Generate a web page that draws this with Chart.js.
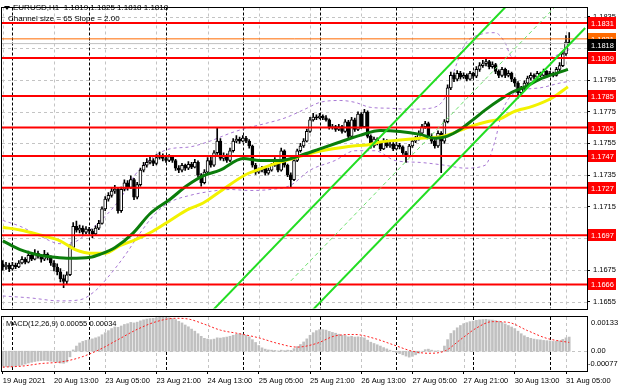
<!DOCTYPE html>
<html><head><meta charset="utf-8">
<script src="https://cdn.jsdelivr.net/npm/chart.js@4.4.0/dist/chart.umd.min.js"></script>
<style>
html,body{margin:0;padding:0;background:#fff;overflow:hidden}
#wrap{position:relative;width:620px;height:388px;background:#fff}
#c1{position:absolute;left:0;top:0}
#c2{position:absolute;left:0;top:316px}
</style></head><body>
<div id="wrap"><canvas id="c1" width="620" height="316"></canvas><canvas id="c2" width="620" height="72"></canvas></div>
<script>
// ---------- DATA (EURUSD H1, one entry per hourly bar, bar 0 = 19 Aug 21:00) ----------
const timeLabels = ['19 Aug 2021','20 Aug 13:00','23 Aug 05:00','23 Aug 21:00','24 Aug 13:00','25 Aug 05:00','25 Aug 21:00','26 Aug 13:00','27 Aug 05:00','27 Aug 21:00','30 Aug 13:00','31 Aug 05:00'];
const timeLabelBars = [0,16,32,48,64,80,96,112,128,144,160,176];
const daySeparatorBars = [3,27,51,75,99,123,147,171];

const opens = [
1.16790,1.16770,1.16782,1.16758,1.16782,1.16770,1.16795,1.16819,1.16801,1.16844,
1.16819,1.16856,1.16838,1.16819,1.16850,1.16831,1.16795,1.16770,1.16740,1.16697,
1.16679,1.16721,1.16893,1.17027,1.17003,1.17015,1.16990,1.17009,1.16997,1.16978,
1.17015,1.17045,1.17137,1.17198,1.17222,1.17249,1.17261,1.17125,1.17261,1.17302,
1.17273,1.17322,1.17210,1.17290,1.17381,1.17412,1.17430,1.17442,1.17424,1.17461,
1.17473,1.17455,1.17442,1.17467,1.17442,1.17394,1.17381,1.17412,1.17394,1.17418,
1.17400,1.17430,1.17351,1.17302,1.17369,1.17442,1.17412,1.17491,1.17565,1.17455,
1.17473,1.17442,1.17504,1.17565,1.17577,1.17565,1.17583,1.17565,1.17534,1.17412,
1.17369,1.17381,1.17394,1.17363,1.17381,1.17412,1.17442,1.17381,1.17504,1.17412,
1.17351,1.17322,1.17442,1.17504,1.17534,1.17565,1.17626,1.17699,1.17717,1.17711,
1.17723,1.17711,1.17699,1.17650,1.17656,1.17638,1.17656,1.17626,1.17687,1.17595,
1.17699,1.17638,1.17736,1.17656,1.17748,1.17595,1.17534,1.17577,1.17552,1.17516,
1.17565,1.17534,1.17546,1.17516,1.17540,1.17528,1.17491,1.17473,1.17534,1.17565,
1.17577,1.17614,1.17656,1.17675,1.17595,1.17565,1.17534,1.17614,1.17565,1.17687,
1.17901,1.17980,1.17956,1.17992,1.17968,1.17980,1.17956,1.17992,1.17974,1.18017,
1.18041,1.18053,1.18066,1.18035,1.18047,1.18005,1.17980,1.18017,1.17980,1.17992,
1.17956,1.17931,1.17870,1.17895,1.17931,1.17962,1.17980,1.17968,1.17992,1.17980,
1.18005,1.17980,1.17992,1.17980,1.18017,1.18041,1.18115,1.18190];
const highs = [
1.16810,1.16800,1.16795,1.16800,1.16795,1.16810,1.16835,1.16830,1.16870,1.16860,
1.16880,1.16870,1.16850,1.16875,1.16860,1.16840,1.16810,1.16790,1.16760,1.16720,
1.16740,1.16910,1.17050,1.17060,1.17035,1.17030,1.17025,1.17020,1.17010,1.17030,
1.17065,1.17150,1.17215,1.17240,1.17270,1.17285,1.17270,1.17275,1.17320,1.17315,
1.17345,1.17330,1.17305,1.17395,1.17430,1.17455,1.17465,1.17455,1.17480,1.17495,
1.17485,1.17470,1.17480,1.17475,1.17450,1.17410,1.17425,1.17420,1.17435,1.17430,
1.17450,1.17440,1.17360,1.17385,1.17460,1.17465,1.17505,1.17645,1.17580,1.17490,
1.17485,1.17520,1.17580,1.17600,1.17590,1.17600,1.17595,1.17575,1.17540,1.17425,
1.17395,1.17405,1.17400,1.17395,1.17425,1.17460,1.17450,1.17520,1.17510,1.17420,
1.17365,1.17455,1.17515,1.17550,1.17580,1.17640,1.17715,1.17740,1.17730,1.17740,
1.17730,1.17725,1.17705,1.17670,1.17665,1.17670,1.17665,1.17700,1.17695,1.17715,
1.17710,1.17750,1.17745,1.17765,1.17755,1.17605,1.17590,1.17585,1.17560,1.17580,
1.17575,1.17560,1.17555,1.17555,1.17550,1.17535,1.17500,1.17545,1.17580,1.17595,
1.17630,1.17670,1.17690,1.17685,1.17610,1.17575,1.17630,1.17625,1.17700,1.17920,
1.18000,1.17995,1.18010,1.18005,1.17995,1.17990,1.18005,1.18000,1.18035,1.18060,
1.18075,1.18085,1.18075,1.18065,1.18055,1.18015,1.18030,1.18025,1.18010,1.18000,
1.17965,1.17940,1.17910,1.17945,1.17975,1.17995,1.17990,1.18005,1.18000,1.18020,
1.18010,1.18005,1.18000,1.18030,1.18060,1.18130,1.18230,1.18250];
const lows = [
1.16750,1.16755,1.16740,1.16750,1.16760,1.16765,1.16790,1.16790,1.16795,1.16810,
1.16815,1.16825,1.16800,1.16810,1.16815,1.16780,1.16745,1.16720,1.16675,1.16640,
1.16660,1.16715,1.16885,1.16990,1.16985,1.16975,1.16980,1.16980,1.16955,1.16970,
1.17005,1.17040,1.17125,1.17185,1.17210,1.17235,1.17110,1.17115,1.17250,1.17255,
1.17265,1.17195,1.17200,1.17280,1.17370,1.17400,1.17420,1.17410,1.17415,1.17450,
1.17440,1.17430,1.17435,1.17430,1.17380,1.17365,1.17370,1.17380,1.17385,1.17390,
1.17395,1.17340,1.17280,1.17295,1.17360,1.17400,1.17405,1.17480,1.17445,1.17440,
1.17430,1.17435,1.17495,1.17555,1.17550,1.17560,1.17555,1.17520,1.17400,1.17355,
1.17360,1.17370,1.17350,1.17355,1.17375,1.17405,1.17370,1.17375,1.17400,1.17340,
1.17270,1.17315,1.17435,1.17495,1.17525,1.17560,1.17620,1.17690,1.17700,1.17705,
1.17700,1.17690,1.17640,1.17640,1.17625,1.17630,1.17615,1.17620,1.17585,1.17590,
1.17625,1.17630,1.17645,1.17650,1.17585,1.17520,1.17525,1.17540,1.17505,1.17510,
1.17525,1.17525,1.17505,1.17510,1.17515,1.17480,1.17430,1.17465,1.17525,1.17555,
1.17570,1.17605,1.17645,1.17585,1.17550,1.17520,1.17525,1.17365,1.17550,1.17680,
1.17890,1.17940,1.17945,1.17955,1.17960,1.17945,1.17950,1.17960,1.17965,1.18005,
1.18030,1.18040,1.18020,1.18025,1.17990,1.17965,1.17970,1.17965,1.17970,1.17940,
1.17910,1.17835,1.17855,1.17885,1.17920,1.17950,1.17955,1.17960,1.17970,1.17975,
1.17970,1.17975,1.17970,1.17975,1.18010,1.18035,1.18105,1.18180];
const closes = [
1.16770,1.16782,1.16758,1.16782,1.16770,1.16795,1.16819,1.16801,1.16844,1.16819,
1.16856,1.16838,1.16819,1.16850,1.16831,1.16795,1.16770,1.16740,1.16697,1.16679,
1.16721,1.16893,1.17027,1.17003,1.17015,1.16990,1.17009,1.16997,1.16978,1.17015,
1.17045,1.17137,1.17198,1.17222,1.17249,1.17261,1.17125,1.17261,1.17302,1.17273,
1.17322,1.17210,1.17290,1.17381,1.17412,1.17430,1.17442,1.17424,1.17461,1.17473,
1.17455,1.17442,1.17467,1.17442,1.17394,1.17381,1.17412,1.17394,1.17418,1.17400,
1.17430,1.17351,1.17302,1.17369,1.17442,1.17412,1.17491,1.17565,1.17455,1.17473,
1.17442,1.17504,1.17565,1.17577,1.17565,1.17583,1.17565,1.17534,1.17412,1.17369,
1.17381,1.17394,1.17363,1.17381,1.17412,1.17442,1.17381,1.17504,1.17412,1.17351,
1.17322,1.17442,1.17504,1.17534,1.17565,1.17626,1.17699,1.17717,1.17711,1.17723,
1.17711,1.17699,1.17650,1.17656,1.17638,1.17656,1.17626,1.17687,1.17595,1.17699,
1.17638,1.17736,1.17656,1.17748,1.17595,1.17534,1.17577,1.17552,1.17516,1.17565,
1.17534,1.17546,1.17516,1.17540,1.17528,1.17491,1.17473,1.17534,1.17565,1.17577,
1.17614,1.17656,1.17675,1.17595,1.17565,1.17534,1.17614,1.17565,1.17687,1.17901,
1.17980,1.17956,1.17992,1.17968,1.17980,1.17956,1.17992,1.17974,1.18017,1.18041,
1.18053,1.18066,1.18035,1.18047,1.18005,1.17980,1.18017,1.17980,1.17992,1.17956,
1.17931,1.17870,1.17895,1.17931,1.17962,1.17980,1.17968,1.17992,1.17980,1.18005,
1.17980,1.17992,1.17980,1.18017,1.18041,1.18115,1.18190,1.18180];

// moving averages (bar index, price)
const maGreenBars = [0,5.4,11.6,16.3,21,27.3,30.4,35.1,40.7,46,52.3,57.6,62.6,67.9,75.1,80.4,86.6,92.9,99.1,105.4,111.6,117.9,124.1,130.4,135.1,138.8,142.9,146.9,150.7,155.4,159.4,163.2,167.9,171.9,176.6];
const maGreen = [1.16935,1.16880,1.16844,1.16831,1.16825,1.16831,1.16850,1.16893,1.16984,1.17106,1.17198,1.17284,1.17345,1.17381,1.17455,1.17442,1.17442,1.17473,1.17516,1.17559,1.17601,1.17632,1.17626,1.17607,1.17583,1.17595,1.17638,1.17699,1.17760,1.17827,1.17876,1.17907,1.17956,1.17986,1.18017];
const maYellowBars = [0,5.4,11.6,17.9,22.6,28.2,31.9,36.6,41.3,46.9,52.3,57.6,62.6,67.9,75.7,79.4,84.4,90.7,96.9,103.2,109.4,113.8,117.9,124.1,130.4,137.6,142.9,146.9,151.3,155.4,159.4,165.7,171.9,176.6];
const maYellow = [1.17021,1.17003,1.16972,1.16935,1.16880,1.16856,1.16856,1.16905,1.16941,1.16996,1.17064,1.17131,1.17174,1.17247,1.17351,1.17381,1.17418,1.17455,1.17491,1.17516,1.17534,1.17540,1.17559,1.17571,1.17583,1.17595,1.17632,1.17662,1.17687,1.17705,1.17748,1.17785,1.17840,1.17907];
const bandUpperBars = [0,5.4,11.6,17.9,22.6,27.3,31.9,36.6,41.3,47.6,52.3,58.5,64.8,71,75.7,81.9,88.2,94.4,99.1,105.4,110.1,114.8,121,127.3,133.5,138.2,141.3,144.4,149.1,153.8,156.9,159.1,164.8,170.1,174.1,177.3];
const bandUpper = [1.17064,1.17027,1.16966,1.16917,1.16929,1.17003,1.17088,1.17198,1.17351,1.17473,1.17516,1.17528,1.17565,1.17614,1.17644,1.17675,1.17711,1.17766,1.17809,1.17821,1.17809,1.17778,1.17772,1.17766,1.17772,1.17840,1.18023,1.18176,1.18237,1.18249,1.18188,1.18096,1.18090,1.18090,1.18115,1.18145];
const bandLowerBars = [0,8.5,17.9,24.1,28.8,33.5,38.2,42.9,47.6,52.3,58.5,64.8,71,77.3,83.5,89.8,96,103.8,110.1,116.3,122.6,130.4,138.2,144.4,150.7,153.8,156,160.1,167.9,174.1,177.3];
const bandLower = [1.16587,1.16575,1.16556,1.16563,1.16618,1.16721,1.16844,1.16984,1.17106,1.17180,1.17222,1.17247,1.17259,1.17253,1.17259,1.17284,1.17381,1.17442,1.17504,1.17504,1.17442,1.17430,1.17412,1.17394,1.17412,1.17565,1.17748,1.17870,1.17901,1.17931,1.17943];

// regression channel (bar index, price at both ends)
const channelBars = [[60,170],[90,182],[90,182]];
const channelUpper = [1.16379,1.18681];
const channelLower = [1.16356,1.18279];
const channelMiddle = [1.16682,1.18609];

// horizontal levels
const redLevels = [1.1831,1.1809,1.1785,1.1765,1.1747,1.1727,1.1697,1.1666];
const orangeLevel = 1.1821;
const bidPrice = 1.1818;
const priceTicks = [1.1655,1.1675,1.1695,1.1715,1.1735,1.1755,1.1775,1.1795,1.1815,1.1835];
const quote = {open:'1.1819', high:'1.1825', low:'1.1818', close:'1.1818'};

// MACD(12,26,9)
const macdMain = [
-0.00058,-0.00060,-0.00061,-0.00060,-0.00058,-0.00056,-0.00054,-0.00050,-0.00046,-0.00043,
-0.00040,-0.00038,-0.00037,-0.00036,-0.00037,-0.00039,-0.00041,-0.00043,-0.00046,-0.00047,
-0.00042,-0.00022,0.00005,0.00020,0.00032,0.00038,0.00042,0.00045,0.00048,0.00052,
0.00056,0.00064,0.00072,0.00080,0.00088,0.00094,0.00093,0.00098,0.00104,0.00107,
0.00112,0.00110,0.00113,0.00118,0.00122,0.00125,0.00127,0.00128,0.00130,0.00132,
0.00133,0.00131,0.00130,0.00127,0.00123,0.00116,0.00110,0.00102,0.00095,0.00086,
0.00078,0.00068,0.00058,0.00050,0.00047,0.00045,0.00047,0.00052,0.00051,0.00053,
0.00055,0.00058,0.00062,0.00066,0.00068,0.00066,0.00062,0.00056,0.00045,0.00034,
0.00022,0.00013,0.00008,0.00005,0.00004,0.00003,0.00001,0.00004,0.00002,0.00004,
0.00003,0.00010,0.00018,0.00026,0.00036,0.00048,0.00062,0.00072,0.00080,0.00084,
0.00084,0.00082,0.00077,0.00073,0.00070,0.00066,0.00062,0.00061,0.00056,0.00058,
0.00055,0.00056,0.00054,0.00052,0.00043,0.00035,0.00030,0.00025,0.00020,0.00014,
0.00009,0.00004,-0.00001,-0.00005,-0.00009,-0.00014,-0.00019,-0.00023,-0.00020,-0.00014,
-0.00008,0.00000,0.00006,0.00008,0.00004,0.00001,0.00002,0.00000,0.00020,0.00045,
0.00069,0.00080,0.00091,0.00100,0.00107,0.00111,0.00115,0.00117,0.00120,0.00122,
0.00123,0.00124,0.00122,0.00121,0.00119,0.00117,0.00112,0.00106,0.00100,0.00094,
0.00088,0.00078,0.00068,0.00060,0.00054,0.00050,0.00047,0.00045,0.00044,0.00042,
0.00041,0.00040,0.00038,0.00039,0.00040,0.00046,0.00052,0.00055];
const macdSignalBars = [0,6,12,18,24,30,36,42,48,54,58,63,68,74,80,86,92,98,104,110,116,122,128,133,138,143,148,153,158,164,170,177];
const macdSignal = [-0.00062,-0.00058,-0.00048,-0.00042,-0.00025,0.00005,0.00045,0.00085,0.00115,0.00128,0.00125,0.00105,0.00082,0.00068,0.00052,0.00030,0.00016,0.00030,0.00060,0.00065,0.00050,0.00025,0.00000,-0.00008,0.00000,0.00045,0.00090,0.00115,0.00112,0.00080,0.00050,0.00034];
const macdTickText = ['0.00133','0.00','-0.00077'];
const macdTitle = 'MACD(12,26,9) 0.00055 0.00034';

// ---------- CHART ----------
const FONT = '"Liberation Sans", Arial, sans-serif';
const FS = 7.5;
const X_MIN = -0.25, X_MAX = 182.56;
Chart.defaults.font.family = FONT;
Chart.defaults.animation = false;

const pairs = (xs, ys) => xs.map((x, i) => ({x, y: ys[i]}));
const hline = (v, color, width, order) => ({type:'line', data:[{x:X_MIN,y:v},{x:X_MAX,y:v}], borderColor:color, borderWidth:width, pointRadius:0, order});

function drawGrid(chart, hVals) {
  const {ctx, chartArea:a, scales:{x, y}} = chart;
  ctx.save();
  ctx.beginPath(); ctx.rect(a.left, a.top, a.right - a.left, a.bottom - a.top); ctx.clip();
  ctx.lineWidth = 1;
  ctx.strokeStyle = '#c4c4c4'; ctx.setLineDash([3, 3]);
  hVals.forEach(v => { const p = Math.round(y.getPixelForValue(v)) + 0.5; ctx.beginPath(); ctx.moveTo(a.left, p); ctx.lineTo(a.right, p); ctx.stroke(); });
  timeLabelBars.forEach(v => { const p = Math.round(x.getPixelForValue(v)) + 0.5; ctx.beginPath(); ctx.moveTo(p, a.top); ctx.lineTo(p, a.bottom); ctx.stroke(); });
  ctx.strokeStyle = '#000'; ctx.setLineDash([3, 2]);
  daySeparatorBars.forEach(v => { const p = Math.round(x.getPixelForValue(v)) + 0.5; ctx.beginPath(); ctx.moveTo(p, a.top); ctx.lineTo(p, a.bottom); ctx.stroke(); });
  ctx.restore();
}
function drawFrame(chart) {
  const {ctx, chartArea:a} = chart;
  ctx.save(); ctx.strokeStyle = '#000'; ctx.lineWidth = 1;
  ctx.strokeRect(Math.round(a.left) - 0.5, Math.round(a.top) - 0.5, Math.round(a.right - a.left) + 1, Math.round(a.bottom - a.top) + 1);
  ctx.restore();
}
function priceBox(ctx, yPix, text, bg, fg) {
  ctx.fillStyle = bg; ctx.fillRect(588, Math.round(yPix) - 6, 28, 12);
  ctx.fillStyle = fg; ctx.textAlign = 'left'; ctx.textBaseline = 'middle';
  ctx.fillText(text, 591, Math.round(yPix) + 0.5);
}

const mainPlugin = {
  id: 'mainDeco',
  beforeDatasetsDraw(chart) { drawGrid(chart, priceTicks); },
  afterDraw(chart) {
    const {ctx, scales:{y}} = chart;
    drawFrame(chart);
    ctx.save();
    ctx.font = FS + 'px ' + FONT;
    redLevels.forEach(v => priceBox(ctx, y.getPixelForValue(v), v.toFixed(4), '#ff0000', '#ffffff'));
    priceBox(ctx, y.getPixelForValue(orangeLevel), orangeLevel.toFixed(4), '#ff6a00', '#ffffff');
    priceBox(ctx, y.getPixelForValue(bidPrice) + 1, bidPrice.toFixed(4), '#000000', '#ffffff');
    ctx.fillStyle = '#000'; ctx.textBaseline = 'middle'; ctx.textAlign = 'left';
    ctx.beginPath(); ctx.moveTo(4, 6); ctx.lineTo(10, 6); ctx.lineTo(7, 10); ctx.closePath(); ctx.fill();
    ctx.font = '8px ' + FONT;
    ctx.fillText('EURUSD,H1  ' + quote.open + ' ' + quote.high + ' ' + quote.low + ' ' + quote.close, 13, 8);
    ctx.fillText('Channel size = 65 Slope = 2.00', 8, 19);
    ctx.restore();
  }
};

const bodyColors = closes.map((c, i) => c >= opens[i] ? '#ffffff' : '#000000');

new Chart(document.getElementById('c1'), {
  type: 'bar',
  data: {
    datasets: [
      ...redLevels.map(v => hline(v, '#ff0000', 2, 2)),
      hline(orangeLevel, '#ff6a00', 1, 2),
      hline(bidPrice, '#c0c0c0', 1, 3),
      {type:'line', data: pairs(channelBars[0], channelUpper), borderColor:'#22dd22', borderWidth:2, pointRadius:0, order:1},
      {type:'line', data: pairs(channelBars[1], channelLower), borderColor:'#22dd22', borderWidth:2, pointRadius:0, order:1},
      {type:'line', data: pairs(channelBars[2], channelMiddle), borderColor:'#6ee06e', borderWidth:1, borderDash:[4,3], pointRadius:0, order:1},
      {type:'line', data: pairs(maGreenBars, maGreen), borderColor:'#0b7d0b', borderWidth:3, pointRadius:0, tension:0.4, cubicInterpolationMode:'monotone', order:4},
      {type:'line', data: pairs(maYellowBars, maYellow), borderColor:'#f2f200', borderWidth:3, pointRadius:0, tension:0.4, cubicInterpolationMode:'monotone', order:5},
      {type:'line', data: pairs(bandUpperBars, bandUpper), borderColor:'#a878d4', borderWidth:1, borderDash:[3,3], pointRadius:0, tension:0.4, cubicInterpolationMode:'monotone', order:9},
      {type:'line', data: pairs(bandLowerBars, bandLower), borderColor:'#a878d4', borderWidth:1, borderDash:[3,3], pointRadius:0, tension:0.4, cubicInterpolationMode:'monotone', order:9},
      {type:'bar', data: closes.map((c, i) => ({x:i, y:[lows[i], highs[i]]})), backgroundColor:'#000', borderWidth:0, barThickness:1, grouped:false, order:8},
      {type:'bar', data: closes.map((c, i) => ({x:i, y:[opens[i], c]})), backgroundColor: bodyColors, borderColor:'#000', borderWidth:1, borderSkipped:false, barThickness:3, minBarLength:1, grouped:false, order:7}
    ]
  },
  options: {
    responsive:false, animation:false,
    layout:{padding:{left:2, top:2, bottom:3, right:0}},
    plugins:{legend:{display:false}, tooltip:{enabled:false}},
    scales:{
      x:{type:'linear', min:X_MIN, max:X_MAX, offset:false, display:false},
      y:{type:'linear', position:'right', min:1.16508, max:1.18408,
         afterBuildTicks: s => { s.ticks = priceTicks.map(v => ({value:v})); },
         afterFit: s => { s.width = 33; },
         grid:{drawOnChartArea:false, tickLength:3, color:'#000'},
         border:{display:true, color:'#000'},
         ticks:{autoSkip:false, padding:3, color:'#000', font:{size:FS, family:FONT}, callback: v => Number(v).toFixed(4)}}
    }
  },
  plugins:[mainPlugin]
});

const macdPlugin = {
  id:'macdDeco',
  beforeDatasetsDraw(chart) { drawGrid(chart, [0]); },
  afterDraw(chart) {
    const {ctx, chartArea:a} = chart;
    drawFrame(chart);
    ctx.save();
    ctx.fillStyle = '#000'; ctx.textBaseline = 'middle'; ctx.textAlign = 'left';
    ctx.font = FS + 'px ' + FONT;
    ctx.fillText(macdTitle, 6, a.top + 7);
    const ys = [a.top + 6, chart.scales.y.getPixelForValue(0), a.bottom - 7];
    macdTickText.forEach((t, i) => ctx.fillText(t, i === 2 ? 588 : 591, ys[i]));
    ctx.restore();
  }
};

new Chart(document.getElementById('c2'), {
  type:'bar',
  data:{datasets:[
    {type:'line', data: pairs(macdSignalBars, macdSignal), borderColor:'#ff2020', borderWidth:1, borderDash:[2,2], pointRadius:0, tension:0.4, cubicInterpolationMode:'monotone', order:0},
    {type:'bar', data: macdMain.map((v, i) => ({x:i, y:v})), backgroundColor:'#c0c0c0', borderWidth:0, barThickness:2, grouped:false, order:1}
  ]},
  options:{
    responsive:false, animation:false,
    layout:{padding:{left:2, top:1, bottom:0, right:33}},
    plugins:{legend:{display:false}, tooltip:{enabled:false}},
    scales:{
      x:{type:'linear', min:X_MIN, max:X_MAX, offset:false, position:'bottom',
         afterBuildTicks: s => { s.ticks = timeLabelBars.map(v => ({value:v})); },
         afterFit: s => { s.height = 17; },
         grid:{drawOnChartArea:false, tickLength:3, color:'#000', offset:false},
         border:{display:true, color:'#000'},
         ticks:{autoSkip:false, maxRotation:0, minRotation:0, align:'start', padding:2, color:'#000', font:{size:FS, family:FONT},
                callback: v => timeLabels[timeLabelBars.indexOf(v)]}},
      y:{type:'linear', min:-0.00077, max:0.00133, display:false}
    }
  },
  plugins:[macdPlugin]
});
</script>
</body></html>
